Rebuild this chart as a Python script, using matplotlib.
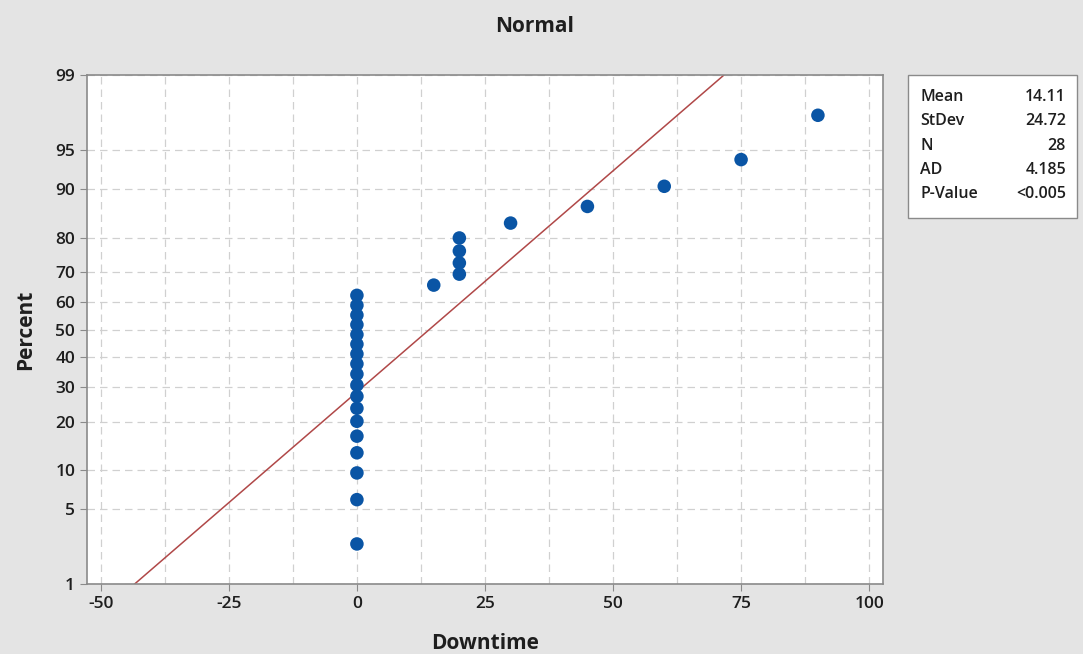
import numpy as np
import matplotlib.pyplot as plt
from matplotlib.patches import Rectangle
from statistics import NormalDist

plt.rcParams['font.family'] = ['Open Sans', 'DejaVu Sans']
plt.rcParams['axes.unicode_minus'] = False

# data
downtime = [0] * 18 + [15, 20, 20, 20, 20, 30, 45, 60, 75, 90]
percent = [2.5, 6.0, 9.5, 13.0, 16.5, 20.1, 23.6, 27.1, 30.6, 34.2,
           37.7, 41.2, 44.7, 48.2, 51.8, 55.3, 58.8, 62.3,
           65.8, 69.4, 72.9, 76.4, 79.9, 83.5, 87.0, 90.5, 94.0, 97.5]
mean, stdev = 14.11, 24.72
stat_names = ['Mean', 'StDev', 'N', 'AD', 'P-Value']
stat_values = ['14.11', '24.72', '28', '4.185', '<0.005']
y_ticks = [1, 5, 10, 20, 30, 40, 50, 60, 70, 80, 90, 95, 99]
x_ticks = [-50, -25, 0, 25, 50, 75, 100]

nd = NormalDist()
_ppf = np.vectorize(lambda v: nd.inv_cdf(v / 100.0), otypes=[float])
_cdf = np.vectorize(lambda v: nd.cdf(v) * 100.0, otypes=[float])


def fwd(p):
    p = np.clip(np.asarray(p, dtype=float), 1e-6, 100 - 1e-6)
    return _ppf(p)


def inv(z):
    return _cdf(np.asarray(z, dtype=float))


fig = plt.figure(figsize=(10.83, 6.54), dpi=100)
fig.patch.set_facecolor('#e4e4e4')
ax = fig.add_axes([0.0803, 0.107, 0.735, 0.778])
ax.set_facecolor('white')
ax.set_yscale('function', functions=(fwd, inv))

# fitted line
line_pct = np.array([0.5, 99.5])
line_x = mean + stdev * fwd(line_pct)
ax.plot(line_x, line_pct, color='#b04848', lw=1.1, zorder=2)

ax.scatter(downtime, percent, s=95, color='#0a55a5', zorder=3, edgecolors='none')

ax.set_xlim(-52.7, 102.7)
ax.set_ylim(1, 99)
ax.set_xticks(x_ticks)
ax.set_yticks(y_ticks)
ax.set_yticklabels([str(t) for t in y_ticks])
ax.set_xticks(np.arange(-50, 101, 12.5), minor=True)
ax.yaxis.set_minor_locator(plt.NullLocator())

ax.grid(True, which='both', axis='x', color='#d0d0d0', ls=(0, (6, 4)), lw=0.9)
ax.grid(True, which='major', axis='y', color='#d0d0d0', ls=(0, (6, 4)), lw=0.9)
ax.set_axisbelow(True)

for s in ax.spines.values():
    s.set_color('#8a8a8a')
    s.set_linewidth(1.2)
ax.tick_params(axis='both', which='major', labelsize=12.5, colors='#8a8a8a',
               labelcolor='#1e1e1e', length=5, direction='out')
ax.tick_params(axis='x', which='minor', length=0)
for lbl in ax.get_xticklabels() + ax.get_yticklabels():
    lbl.set_fontweight('semibold')

fig.text(535 / 1083, 1 - 27 / 654, 'Normal', fontsize=15, fontweight='bold',
         color='#1e1e1e', ha='center', va='center')
ax.set_xlabel('Downtime', fontsize=15, fontweight='bold', color='#1e1e1e', labelpad=15)
ax.set_ylabel('Percent', fontsize=15, fontweight='bold', color='#1e1e1e', labelpad=14)

# stats box
W, H = 1083.0, 654.0
bx0, bx1, by0, by1 = 908, 1077, 75, 218
fig.patches.append(Rectangle((bx0 / W, 1 - by1 / H), (bx1 - bx0) / W, (by1 - by0) / H,
                             transform=fig.transFigure, facecolor='white',
                             edgecolor='#8a8a8a', lw=1.0))
for i, (n, v) in enumerate(zip(stat_names, stat_values)):
    yy = 1 - (97 + i * 24.3) / H
    fig.text(920 / W, yy, n, fontsize=11.5, color='#1e1e1e', va='center', ha='left',
             fontweight='semibold')
    fig.text(1066 / W, yy, v, fontsize=11.5, color='#1e1e1e', va='center', ha='right',
             fontweight='semibold')

fig.savefig('out.png', dpi=100, facecolor=fig.get_facecolor())
